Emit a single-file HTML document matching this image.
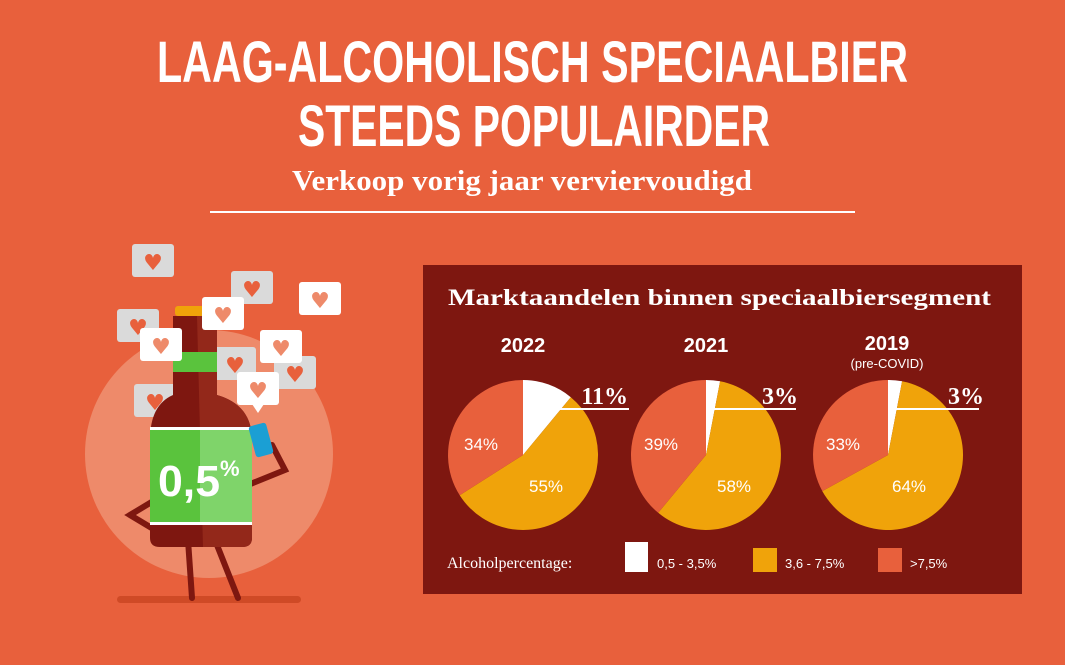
<!DOCTYPE html>
<html><head><meta charset="utf-8"><style>
html,body{margin:0;padding:0;background:#E8603C;}
svg{display:block}
</style></head><body>
<svg width="1065" height="665" viewBox="0 0 1065 665" xmlns="http://www.w3.org/2000/svg">
<rect width="1065" height="665" fill="#E8603C"/>
<g font-family="Liberation Sans, sans-serif" font-weight="bold" fill="#fff">
<text x="157" y="82" font-size="58" textLength="751" lengthAdjust="spacingAndGlyphs">LAAG-ALCOHOLISCH SPECIAALBIER</text>
<text x="298" y="146" font-size="58" textLength="472" lengthAdjust="spacingAndGlyphs">STEEDS POPULAIRDER</text>
</g>
<text x="292" y="190" font-family="Liberation Serif, serif" font-weight="bold" font-size="28" fill="#fff" textLength="460" lengthAdjust="spacingAndGlyphs">Verkoop vorig jaar verviervoudigd</text>
<rect x="210" y="211" width="645" height="2" fill="#fff"/>

<!-- illustration -->
<circle cx="209" cy="454" r="124" fill="#EE8A6A"/>
<rect x="117" y="596" width="184" height="7" rx="3.5" fill="#CF4A26"/>
<g fill="#DADADA">
<rect x="132" y="244" width="42" height="33" rx="3"/><rect x="231" y="271" width="42" height="33" rx="3"/>
<rect x="117" y="309" width="42" height="33" rx="3"/><rect x="214" y="347" width="42" height="33" rx="3"/>
<rect x="274" y="356" width="42" height="33" rx="3"/><rect x="134" y="384" width="42" height="33" rx="3"/>
</g>
<g fill="#E8603C" font-size="22" font-family="DejaVu Sans, sans-serif" text-anchor="middle">
<text x="153" y="270">♥</text><text x="252" y="297">♥</text>
<text x="138" y="335">♥</text><text x="235" y="373">♥</text>
<text x="295" y="382">♥</text><text x="155" y="410">♥</text>
</g>
<g stroke="#7E1710" stroke-width="6" fill="none" stroke-linecap="round">
<path d="M155 500 L130 515 L155 530"/>
<path d="M248 485 L285 470 L272 445"/>
<path d="M188 540 L192 598 M215 540 L238 598"/>
</g>
<rect x="175" y="306" width="42" height="10" rx="3" fill="#F0A30A"/>
<path d="M173 316 H217 V395 Q252 405 252 440 V538 Q252 547 242 547 H160 Q150 547 150 538 V440 Q150 405 173 395 Z" fill="#7E1710"/>
<path d="M197 316 H217 V395 Q252 405 252 440 V538 Q252 547 242 547 H203 Z" fill="#93281A"/>
<rect x="173" y="352" width="44" height="20" fill="#5AC33D"/>
<rect x="150" y="430" width="102" height="92" fill="#5AC33D"/>
<rect x="200" y="430" width="52" height="92" fill="#7FD46A"/>
<rect x="150" y="427" width="102" height="3" fill="#fff"/><rect x="150" y="522" width="102" height="3" fill="#fff"/>
<text x="158" y="496" font-family="Liberation Sans, sans-serif" font-weight="bold" font-size="44" fill="#fff" textLength="62" lengthAdjust="spacingAndGlyphs">0,5</text>
<text x="220" y="476" font-family="Liberation Sans, sans-serif" font-weight="bold" font-size="22" fill="#fff">%</text>
<rect x="252" y="424" width="18" height="32" rx="3" fill="#1B9FD4" transform="rotate(-15 261 440)"/>
<g fill="#fff">
<rect x="299" y="282" width="42" height="33" rx="3"/><rect x="202" y="297" width="42" height="33" rx="3"/>
<rect x="140" y="328" width="42" height="33" rx="3"/><rect x="260" y="330" width="42" height="33" rx="3"/>
<rect x="237" y="372" width="42" height="33" rx="3"/><polygon points="252,404 264,404 258,413"/>
</g>
<g fill="#EE8A6A" font-size="22" font-family="DejaVu Sans, sans-serif" text-anchor="middle">
<text x="320" y="308">♥</text><text x="223" y="323">♥</text><text x="161" y="354">♥</text>
<text x="281" y="356">♥</text><text x="258" y="398">♥</text>
</g>

<!-- panel -->
<rect x="423" y="265" width="599" height="329" fill="#7E1710"/>
<text x="448" y="305" font-family="Liberation Serif, serif" font-weight="bold" font-size="23" fill="#fff" textLength="543" lengthAdjust="spacingAndGlyphs">Marktaandelen binnen speciaalbiersegment</text>
<g font-family="Liberation Sans, sans-serif" font-weight="bold" font-size="20" fill="#fff" text-anchor="middle">
<text x="523" y="352">2022</text><text x="706" y="352">2021</text><text x="887" y="350">2019</text>
</g>
<text x="887" y="368" font-family="Liberation Sans, sans-serif" font-size="13" fill="#fff" text-anchor="middle">(pre-COVID)</text>

<path d="M523 455 L523 380 A75 75 0 0 1 570.8 397.2 Z" fill="#fff"/>
<path d="M523 455 L570.8 397.2 A75 75 0 1 1 459.7 495.2 Z" fill="#F0A30A"/>
<path d="M523 455 L459.7 495.2 A75 75 0 0 1 523 380 Z" fill="#E8603C"/>

<path d="M706 455 L706 380 A75 75 0 0 1 720.1 381.3 Z" fill="#fff"/>
<path d="M706 455 L720.1 381.3 A75 75 0 1 1 658.2 512.8 Z" fill="#F0A30A"/>
<path d="M706 455 L658.2 512.8 A75 75 0 0 1 706 380 Z" fill="#E8603C"/>

<path d="M888 455 L888 380 A75 75 0 0 1 902.1 381.3 Z" fill="#fff"/>
<path d="M888 455 L902.1 381.3 A75 75 0 1 1 822.3 491.1 Z" fill="#F0A30A"/>
<path d="M888 455 L822.3 491.1 A75 75 0 0 1 888 380 Z" fill="#E8603C"/>

<g fill="#fff">
<rect x="560" y="408" width="69" height="2"/><rect x="708" y="408" width="88" height="2"/><rect x="890" y="408" width="89" height="2"/>
</g>
<g font-family="Liberation Serif, serif" font-weight="bold" font-size="24" fill="#fff" text-anchor="end">
<text x="628" y="404">11%</text><text x="798" y="404">3%</text><text x="984" y="404">3%</text>
</g>
<g font-family="Liberation Sans, sans-serif" font-size="17" fill="#fff">
<text x="464" y="450">34%</text><text x="529" y="492">55%</text>
<text x="644" y="450">39%</text><text x="717" y="492">58%</text>
<text x="826" y="450">33%</text><text x="892" y="492">64%</text>
</g>
<text x="447" y="568" font-family="Liberation Serif, serif" font-size="16" fill="#fff">Alcoholpercentage:</text>
<rect x="625" y="542" width="23" height="30" fill="#fff"/>
<rect x="753" y="548" width="24" height="24" fill="#F0A30A"/>
<rect x="878" y="548" width="24" height="24" fill="#E8603C"/>
<g font-family="Liberation Sans, sans-serif" font-size="13" fill="#fff">
<text x="657" y="568">0,5 - 3,5%</text><text x="785" y="568">3,6 - 7,5%</text><text x="910" y="568">&gt;7,5%</text>
</g>
</svg>
</body></html>
